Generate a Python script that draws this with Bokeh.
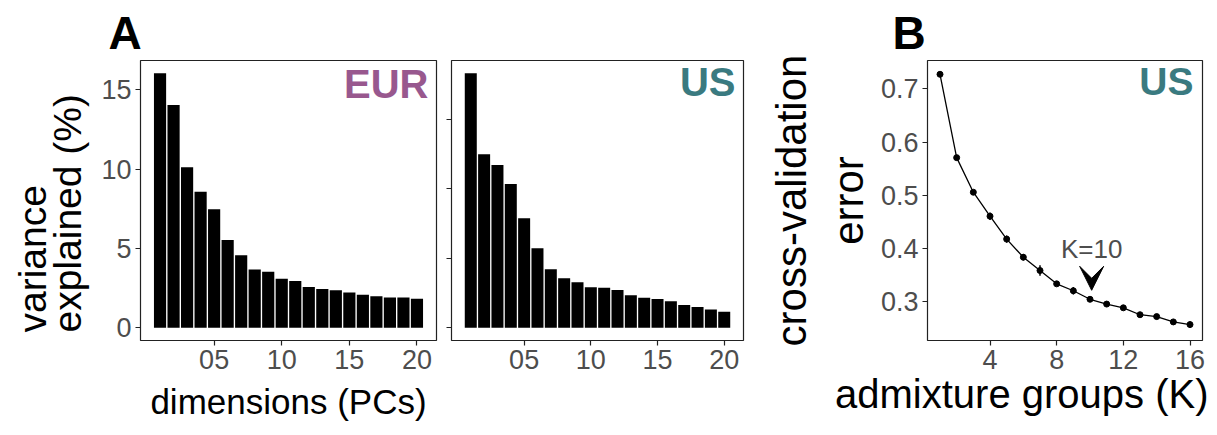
import math
from bokeh.plotting import figure
from bokeh.layouts import row
from bokeh.models import Label, Arrow, VeeHead, Range1d, FixedTicker, Title
from bokeh.embed import file_html
from bokeh.resources import INLINE

# ---------------- data ----------------
pcs = list(range(1, 21))
eur_var = [16.05, 14.05, 10.12, 8.58, 7.47, 5.53, 4.57, 3.68, 3.53, 3.09,
           2.95, 2.57, 2.44, 2.36, 2.23, 2.08, 1.98, 1.91, 1.91, 1.83]
us_var = [18.3, 12.48, 11.71, 10.34, 7.88, 5.72, 4.21, 3.56, 3.27, 2.91,
          2.88, 2.72, 2.33, 2.16, 2.07, 1.90, 1.63, 1.49, 1.32, 1.15]
pc_ticks = [5, 10, 15, 20]
pc_tick_labels = ["05", "10", "15", "20"]
var_ticks = [0, 5, 10, 15]

k_groups = list(range(1, 17))
cv_error = [0.7275, 0.571, 0.506, 0.461, 0.418, 0.384, 0.359, 0.334,
            0.321, 0.305, 0.296, 0.289, 0.276, 0.2725, 0.2625, 0.2575]
cv_sd = [0.002, 0.004, 0.004, 0.007, 0.007, 0.006, 0.010, 0.004,
         0.007, 0.004, 0.004, 0.004, 0.004, 0.005, 0.004, 0.006]
k_ticks = [4, 8, 12, 16]
cv_ticks = [0.3, 0.4, 0.5, 0.6, 0.7]
best_k = 10

FONT = "Liberation Sans"
EUR_COL = "#98588E"
US_COL = "#3A7A80"
TICK_COL = "#4D4D4D"
FRAME_COL = "#222222"
FRAME_H = 280
Q = 0.42  # baseline correction (fraction of font size) for Label text


def expand(lo, hi, f=0.05):
    pad = (hi - lo) * f
    return lo - pad, hi + pad


def style(p):
    p.toolbar_location = None
    p.xgrid.visible = False
    p.ygrid.visible = False
    p.outline_line_color = FRAME_COL
    p.outline_line_width = 1.2
    p.background_fill_color = "white"
    p.border_fill_color = "white"
    for ax in p.axis:
        ax.axis_line_color = None
        ax.major_tick_out = 5
        ax.major_tick_in = 0
        ax.minor_tick_line_color = None
        ax.major_tick_line_color = FRAME_COL
        ax.major_tick_line_width = 1.2
        ax.major_label_text_font = FONT
        ax.major_label_text_font_size = "27px"
        ax.major_label_text_color = TICK_COL
        ax.major_label_standoff = 4


def text_label(p, x, y, text, size, dx=0, dy=0, align="left",
               color="black", bold=False):
    # dy is the wanted baseline offset in pixels (up positive)
    p.add_layout(Label(x=x, y=y, x_offset=dx, y_offset=dy + Q * size,
                       text=text, text_align=align,
                       text_baseline="alphabetic", text_font=FONT,
                       text_font_size=f"{size}px",
                       text_font_style="bold" if bold else "normal",
                       text_color=color))


def side_title(p, text, side, size, align, offset, standoff,
               valign="bottom", bold=False, line_height=1.0):
    t = Title(text=text, align=align, offset=offset, standoff=standoff,
              vertical_align=valign, text_font=FONT,
              text_font_size=f"{size}px",
              text_font_style="bold" if bold else "normal",
              text_color="black", text_line_height=line_height)
    p.add_layout(t, side)


def bar_panel(vals, width, left, right, name, col, name_dy, show_ylabels):
    x0, x1 = expand(min(pcs) - 0.45, max(pcs) + 0.45)
    y0, y1 = expand(0, max(vals))
    p = figure(width=width, height=435, x_range=Range1d(x0, x1),
               y_range=Range1d(y0, y1), output_backend="svg",
               toolbar_location=None, min_border_left=left,
               min_border_right=right, min_border_top=60, min_border_bottom=95,
               title=None)
    p.vbar(x=pcs, top=vals, width=0.9, bottom=0, fill_color="black",
           line_color=None)
    style(p)
    p.xaxis.ticker = FixedTicker(ticks=pc_ticks)
    p.xaxis.major_label_overrides = dict(zip(pc_ticks, pc_tick_labels))
    p.yaxis.ticker = FixedTicker(ticks=var_ticks)
    if not show_ylabels:
        p.yaxis.major_label_overrides = {t: "" for t in var_ticks}
        p.yaxis.major_label_standoff = 0
    text_label(p, x1, y1, name, 40, dx=-8, dy=name_dy, align="right",
               color=col, bold=True)
    return p, (x0, x1, y0, y1)


p1, (ax0, ax1, ay0, ay1) = bar_panel(eur_var, 443, 140, 7, "EUR", EUR_COL,
                                     -40, True)
side_title(p1, "A", "above", 46, "left", -32, 0, valign="top", bold=True,
           line_height=1.1)
# y axis title: two left-aligned rotated lines
side_title(p1, "variance\nexplained (%)", "left", 39, "left", 8, 18,
           line_height=0.82)
# x axis title for panel A
p1.xaxis.major_label_text_line_height = 0.7
side_title(p1, "dimensions (PCs)", "below", 35, "center", 0, 20, valign="top")

p2, _ = bar_panel(us_var, 317, 8, 17, "US", US_COL, -38, False)

# ---------------- panel B ----------------
lo = min(e - s for e, s in zip(cv_error, cv_sd))
hi = max(e + s for e, s in zip(cv_error, cv_sd))
by0, by1 = expand(lo, hi)
bx0, bx1 = expand(min(k_groups), max(k_groups))
p3 = figure(width=457, height=435, x_range=Range1d(bx0, bx1),
            y_range=Range1d(by0, by1), output_backend="svg",
            toolbar_location=None, min_border_left=167, min_border_right=15,
            min_border_top=60, min_border_bottom=95, title=None)
p3.segment(x0=k_groups, y0=[e - s for e, s in zip(cv_error, cv_sd)],
           x1=k_groups, y1=[e + s for e, s in zip(cv_error, cv_sd)],
           line_color="black", line_width=1.5)
p3.line(k_groups, cv_error, line_color="black", line_width=1.3)
p3.scatter(k_groups, cv_error, size=6, fill_color="black", line_color="black")
style(p3)
p3.xaxis.ticker = FixedTicker(ticks=k_ticks)
p3.yaxis.ticker = FixedTicker(ticks=cv_ticks)
side_title(p3, "B", "above", 46, "left", -35, 0, valign="top", bold=True,
           line_height=1.1)
side_title(p3, "error", "left", 42, "center", 0, 11)
side_title(p3, "cross-validation", "left", 42, "center", 0, 5)
side_title(p3, "admixture groups (K)", "below", 40, "right", -6, 0,
           valign="top")

text_label(p3, bx1, by1, "US", 39, dx=-9, dy=-37, align="right",
           color=US_COL, bold=True)

ppu = FRAME_H / (by1 - by0)  # pixels per unit on the B y axis
kbest = cv_error[k_groups.index(best_k)]
text_label(p3, best_k + 0.1, kbest, "K=10", 26, dy=39, align="center",
           color=TICK_COL)
p3.add_layout(Arrow(end=VeeHead(size=24, fill_color="black",
                                line_color="black"),
                    x_start=best_k + 0.1, y_start=kbest + 34 / ppu,
                    x_end=best_k + 0.1, y_end=kbest + 9 / ppu,
                    line_alpha=0))

layout = row(p1, p2, p3)
open("out.html", "w").write(file_html(layout, INLINE))
